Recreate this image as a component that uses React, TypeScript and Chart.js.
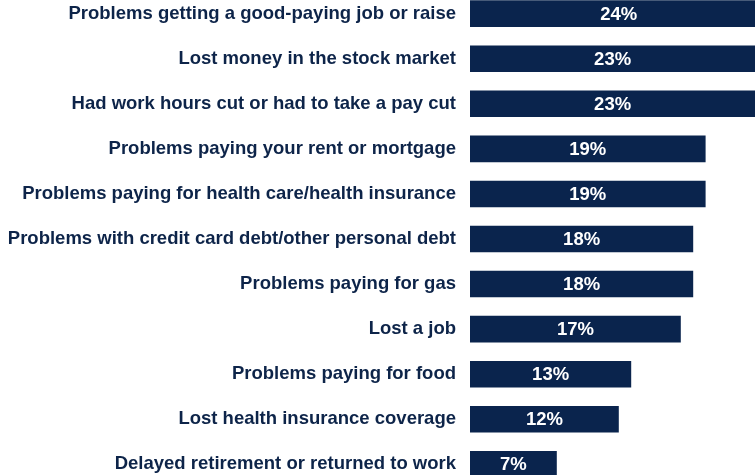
import React, { useEffect, useRef } from "react";
import { Chart, registerables } from "chart.js";

Chart.register(...registerables);

const categories = [
  "Problems getting a good-paying job or raise",
  "Lost money in the stock market",
  "Had work hours cut or had to take a pay cut",
  "Problems paying your rent or mortgage",
  "Problems paying for health care/health insurance",
  "Problems with credit card debt/other personal debt",
  "Problems paying for gas",
  "Lost a job",
  "Problems paying for food",
  "Lost health insurance coverage",
  "Delayed retirement or returned to work",
];

const values = [24, 23, 23, 19, 19, 18, 18, 17, 13, 12, 7];

const BAR_COLOR = "#0a244d";
const TEXT_COLOR = "#0d2449";
const FONT = "'Liberation Sans', Arial, Helvetica, sans-serif";

const valueLabels = {
  id: "valueLabels",
  afterDatasetsDraw(chart: any) {
    const ctx = chart.ctx;
    const meta = chart.getDatasetMeta(0);
    ctx.save();
    ctx.fillStyle = "#ffffff";
    ctx.font = `bold 18.5px ${FONT}`;
    ctx.textAlign = "center";
    ctx.textBaseline = "middle";
    meta.data.forEach((bar: any, i: number) => {
      const cx = (bar.x + bar.base) / 2;
      ctx.fillText(`${values[i]}%`, cx, bar.y + 1);
    });
    ctx.restore();
  },
};

export default function App() {
  const ref = useRef<HTMLCanvasElement | null>(null);

  useEffect(() => {
    if (!ref.current) return;
    const chart = new Chart(ref.current, {
      type: "bar",
      data: {
        labels: categories,
        datasets: [
          {
            data: values,
            backgroundColor: BAR_COLOR,
            borderWidth: 0,
            categoryPercentage: 1,
            barPercentage: 0.59,
          },
        ],
      },
      options: {
        indexAxis: "y",
        responsive: false,
        animation: false,
        layout: { padding: 0 },
        plugins: {
          legend: { display: false },
          tooltip: { enabled: false },
        },
        scales: {
          x: {
            display: false,
            min: 0,
            max: 25,
          },
          y: {
            grid: { display: false, drawTicks: false },
            border: { display: false },
            ticks: {
              color: TEXT_COLOR,
              padding: 14,
              font: { family: FONT, size: 18.5, weight: "bold" },
              autoSkip: false,
            },
            afterFit(scale: any) {
              scale.width = 470;
            },
          },
        },
      },
      plugins: [valueLabels],
    });
    return () => chart.destroy();
  }, []);

  return (
    <div
      style={{
        position: "fixed",
        top: 0,
        left: 0,
        width: 755,
        height: 475,
        overflow: "hidden",
        background: "#ffffff",
      }}
    >
      <canvas
        ref={ref}
        width={780}
        height={546}
        style={{ position: "absolute", top: -34, left: 0 }}
      />
    </div>
  );
}
